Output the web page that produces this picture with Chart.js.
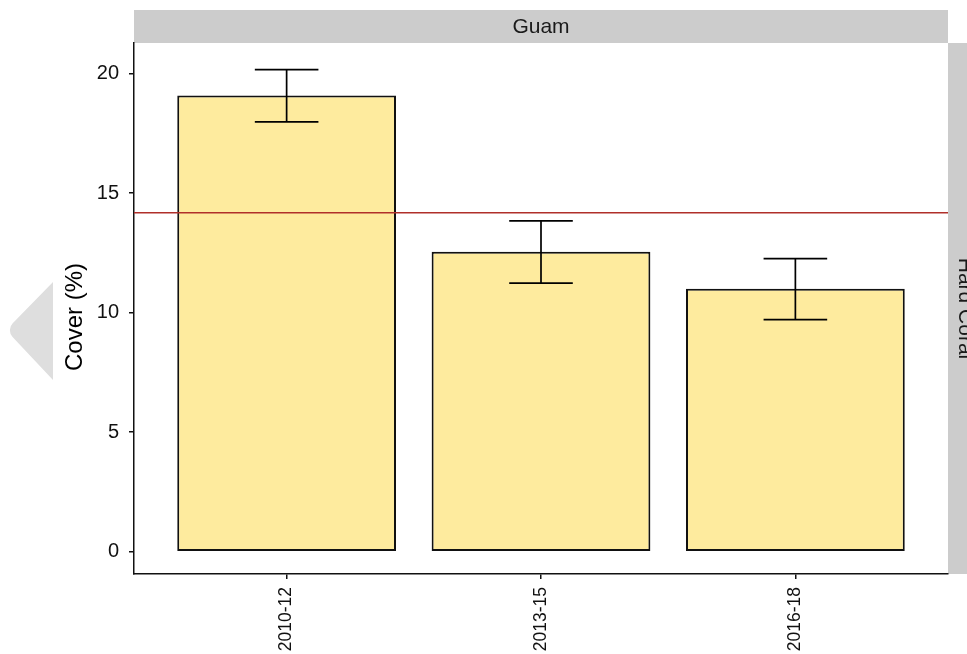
<!DOCTYPE html>
<html lang="en">
<head>
    <meta charset="UTF-8">
    <title>Guam Hard Coral</title>
    <style>
        body { margin: 0; background: #fff; }
    </style>
</head>
<body>
    <canvas id="myChart" width="967" height="654"></canvas>
    <script src="https://cdn.jsdelivr.net/npm/chart.js"></script>
    <script>
        // values
        const periods = ['2010-12', '2013-15', '2016-18']
        const cover = [19.08, 12.55, 11.0]
        const coverLow = [17.98, 11.24, 9.71]
        const coverHigh = [20.17, 13.84, 12.26]
        const baseline = 14.18
        const yTicks = [0, 5, 10, 15, 20]
        const siteName = 'Guam'
        const groupName = 'Hard Coral'

        const font = '"Liberation Sans", Arial, Helvetica, sans-serif'

        // strips, title, error bars + reference line, drawn with the chart scales
        const extras = {
            id: 'extras',
            beforeDraw(chart) {
                const c = chart.ctx
                const a = chart.chartArea
                c.save()
                // strips
                c.fillStyle = '#cccccc'
                c.fillRect(a.left, 10, a.right - a.left, a.top - 10)
                c.fillRect(a.right, a.top, 33, a.bottom - a.top)
                c.fillStyle = '#1a1a1a'
                c.font = '21px ' + font
                c.textAlign = 'center'
                c.textBaseline = 'middle'
                c.fillText(siteName, (a.left + a.right) / 2, (10 + a.top) / 2 + 1)
                c.translate(a.right + 16.5, (a.top + a.bottom) / 2)
                c.rotate(Math.PI / 2)
                c.fillText(groupName, 0, 0)
                c.restore()

                // grey arrow on the left
                c.save()
                c.fillStyle = '#dedede'
                c.beginPath()
                c.moveTo(53, 282)
                c.lineTo(53, 380)
                c.arcTo(6, 330, 53, 282, 10)
                c.closePath()
                c.fill()
                c.restore()

                // y title
                c.save()
                c.fillStyle = '#000'
                c.font = '24px ' + font
                c.textAlign = 'center'
                c.textBaseline = 'middle'
                c.translate(75, 317)
                c.rotate(-Math.PI / 2)
                c.fillText('Cover (%)', 0, 0)
                c.restore()
            },
            afterDatasetsDraw(chart) {
                const c = chart.ctx
                const x = chart.scales.x
                const y = chart.scales.y
                c.save()
                c.strokeStyle = '#000'
                c.lineWidth = 1.7
                periods.forEach((p, i) => {
                    const cx = x.getPixelForValue(i + 1)
                    const l = x.getPixelForValue(i + 1 - 0.125)
                    const r = x.getPixelForValue(i + 1 + 0.125)
                    const lo = y.getPixelForValue(coverLow[i])
                    const hi = y.getPixelForValue(coverHigh[i])
                    c.beginPath()
                    c.moveTo(l, hi); c.lineTo(r, hi)
                    c.moveTo(l, lo); c.lineTo(r, lo)
                    c.moveTo(cx, hi); c.lineTo(cx, lo)
                    c.stroke()
                })
                const by = y.getPixelForValue(baseline)
                c.strokeStyle = '#b0302a'
                c.lineWidth = 1.6
                c.beginPath()
                c.moveTo(chart.chartArea.left, by)
                c.lineTo(chart.chartArea.right, by)
                c.stroke()
                c.restore()
            }
        }

        new Chart(document.getElementById('myChart').getContext('2d'), {
            type: 'bar',
            data: {
                datasets: [{
                    label: groupName,
                    data: periods.map((p, i) => ({ x: i + 1, y: cover[i] })),
                    backgroundColor: '#feeb9e',
                    borderColor: '#111',
                    borderWidth: 2,
                    borderSkipped: false,
                    barPercentage: 0.86,
                    categoryPercentage: 1
                }]
            },
            options: {
                responsive: false,
                animation: false,
                devicePixelRatio: 1,
                layout: { padding: { left: 0, top: 43, right: 19, bottom: 0 } },
                plugins: {
                    legend: { display: false },
                    tooltip: { enabled: false }
                },
                scales: {
                    x: {
                        type: 'linear',
                        offset: false,
                        min: 0.4,
                        max: 3.6,
                        afterBuildTicks: s => { s.ticks = periods.map((p, i) => ({ value: i + 1 })) },
                        afterFit: s => { s.height = 80 },
                        ticks: {
                            callback: v => periods[v - 1],
                            minRotation: 90,
                            maxRotation: 90,
                            padding: 8,
                            color: '#111',
                            font: { family: font, size: 17.5 }
                        },
                        grid: { offset: false, drawOnChartArea: false, drawTicks: true, tickLength: 5, color: '#111', lineWidth: 1.5 },
                        border: { display: true, color: '#111', width: 1.5 }
                    },
                    y: {
                        min: -0.93,
                        max: 21.28,
                        afterBuildTicks: s => { s.ticks = yTicks.map(v => ({ value: v })) },
                        afterFit: s => { s.width = 134 },
                        ticks: {
                            padding: 10,
                            color: '#111',
                            font: { family: font, size: 20 }
                        },
                        grid: { drawOnChartArea: false, drawTicks: true, tickLength: 5, color: '#111', lineWidth: 1.5 },
                        border: { display: true, color: '#111', width: 1.5 }
                    }
                }
            },
            plugins: [extras]
        })
    </script>
</body>
</html>
